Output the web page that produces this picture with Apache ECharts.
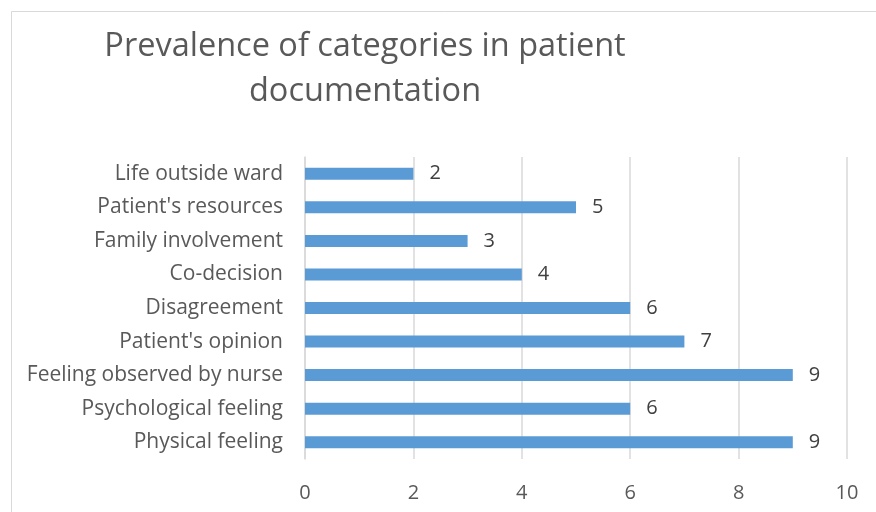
<!DOCTYPE html>
<html><head><meta charset="utf-8">
<script src="https://cdn.jsdelivr.net/npm/echarts@6/dist/echarts.min.js"></script>
<style>html,body{margin:0;padding:0;background:#fff}#c{width:876px;height:512px}</style>
</head><body><div id="c"></div>
<script>
const categories = ["Physical feeling","Psychological feeling","Feeling observed by nurse","Patient's opinion","Disagreement","Co-decision","Family involvement","Patient's resources","Life outside ward"];
const values = [9,6,9,7,6,4,3,5,2];
const xTicks = [0,2,4,6,8,10];
const titleLines = ["Prevalence of categories in patient","documentation"];
const FONT = "Open Sans";
const chart = echarts.init(document.getElementById('c'), null, {renderer:'canvas'});
chart.setOption({
  animation:false,
  backgroundColor:'#fff',
  graphic:[{type:'rect',shape:{x:11.5,y:11.5,width:900,height:600},style:{fill:'none',stroke:'#D9D9D9',lineWidth:1}}],
  title:{text:titleLines.join('\n'),left:360,top:19,textAlign:'center',
    textStyle:{fontFamily:FONT,fontSize:32.5,fontWeight:'normal',color:'#595959',lineHeight:45}},
  grid:{left:305,right:29,top:157,bottom:53,containLabel:false},
  xAxis:{type:'value',min:0,max:10,interval:2,
    axisLine:{show:false},axisTick:{show:false},
    splitLine:{lineStyle:{color:'#D9D9D9',width:1.5}},
    axisLabel:{fontFamily:FONT,fontSize:20,color:'#595959',margin:24,
      formatter:v=>xTicks.includes(v)?String(v):''}},
  yAxis:{type:'category',data:categories,
    axisLine:{lineStyle:{color:'#D9D9D9',width:1.5}},axisTick:{show:false},
    axisLabel:{fontFamily:FONT,fontSize:21,color:'#595959',margin:22}},
  series:[{type:'bar',data:values,barWidth:12,itemStyle:{color:'#5B9BD5'},
    label:{show:true,position:'right',distance:16,fontFamily:FONT,fontSize:20,color:'#404040'}}]
});
</script></body></html>
